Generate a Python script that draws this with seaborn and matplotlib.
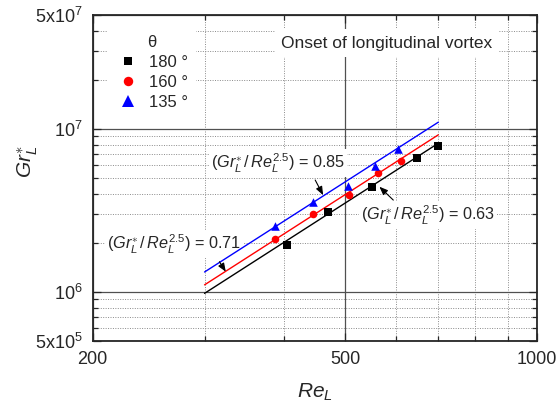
import matplotlib
matplotlib.use("Agg")
import matplotlib.pyplot as plt
import seaborn as sns
from matplotlib.lines import Line2D
from matplotlib.ticker import FixedLocator, NullFormatter

# ---- data ----
theta_labels = ["180 °", "160 °", "135 °"]
re_180 = [404, 470, 550, 649, 700]
gr_180 = [1.94e6, 3.10e6, 4.38e6, 6.60e6, 7.90e6]
re_160 = [387, 445, 507, 562, 611]
gr_160 = [2.10e6, 3.00e6, 3.93e6, 5.35e6, 6.40e6]
re_135 = [387, 444, 505, 557, 604]
gr_135 = [2.55e6, 3.54e6, 4.49e6, 5.95e6, 7.56e6]

# correlation lines (Gr*/Re^2.5 = const), endpoints
re_fit = [300, 700]
gr_fit_063 = [9.8e5, 8.17e6]
gr_fit_071 = [1.105e6, 9.2e6]
gr_fit_085 = [1.325e6, 1.10e7]

x_major = [200, 500, 1000]
x_major_labels = ["200", "500", "1000"]
x_minor = [300, 400, 600, 700, 800, 900]
y_major = [5e5, 1e6, 1e7, 5e7]
y_major_labels = [r"5x10$^{5}$", r"10$^{6}$", r"10$^{7}$", r"5x10$^{7}$"]
y_minor = [6e5, 7e5, 8e5, 9e5, 2e6, 3e6, 4e6, 5e6, 6e6, 7e6, 8e6, 9e6, 2e7, 3e7, 4e7]

sns.set_style("ticks")
plt.rcParams["font.family"] = ["Liberation Sans", "DejaVu Sans"]
plt.rcParams["mathtext.fontset"] = "custom"
plt.rcParams["mathtext.rm"] = "Liberation Sans"
plt.rcParams["mathtext.it"] = "Liberation Sans:italic"
plt.rcParams["mathtext.bf"] = "Liberation Sans:bold"

fig = plt.figure(figsize=(5.57, 4.07), dpi=100)
ax = fig.add_axes([0.1664, 0.1622, 0.7972, 0.8009])

ax.set_xscale("log")
ax.set_yscale("log")
ax.set_xlim(200, 1000)
ax.set_ylim(5e5, 5e7)

# fit lines
sns.lineplot(x=re_fit, y=gr_fit_063, color="black", lw=1.0, ax=ax, zorder=3)
sns.lineplot(x=re_fit, y=gr_fit_071, color="red", lw=1.0, ax=ax, zorder=3)
sns.lineplot(x=re_fit, y=gr_fit_085, color="blue", lw=1.0, ax=ax, zorder=3)

sns.scatterplot(x=re_180, y=gr_180, marker="s", s=27, color="black", linewidth=0, ax=ax, zorder=4)
sns.scatterplot(x=re_160, y=gr_160, marker="o", s=30, color="red", linewidth=0, ax=ax, zorder=4)
sns.scatterplot(x=re_135, y=gr_135, marker="^", s=38, color="blue", linewidth=0, ax=ax, zorder=4)

# ticks
ax.xaxis.set_major_locator(FixedLocator(x_major))
ax.set_xticklabels(x_major_labels)
ax.xaxis.set_minor_locator(FixedLocator(x_minor))
ax.xaxis.set_minor_formatter(NullFormatter())
ax.yaxis.set_major_locator(FixedLocator(y_major))
ax.set_yticklabels(y_major_labels)
ax.yaxis.set_minor_locator(FixedLocator(y_minor))
ax.yaxis.set_minor_formatter(NullFormatter())
ax.tick_params(which="both", direction="in", top=True, right=True, labelsize=13, width=0.9)
ax.tick_params(which="major", length=6, pad=7)
ax.tick_params(which="minor", length=3.5)
for s in ax.spines.values():
    s.set_linewidth(1.3)

ax.grid(which="minor", ls=(0, (1, 1.5)), color="#8a8a8a", lw=0.7)
ax.grid(which="major", ls="-", color="#505050", lw=0.9)
ax.set_axisbelow(True)

ax.set_xlabel(r"$Re_L$", fontsize=15, labelpad=10)
ax.set_ylabel(r"$Gr_L^{\ast}$", fontsize=15)
ax.yaxis.set_label_coords(-0.118, 0.55)

# legend
handles = [
    Line2D([], [], ls="none", marker="s", ms=6.0, color="black", mew=0),
    Line2D([], [], ls="none", marker="o", ms=6.8, color="red", mew=0),
    Line2D([], [], ls="none", marker="^", ms=8.0, color="blue", mew=0),
]
ax.legend(handles, theta_labels, title="θ", loc="upper left", bbox_to_anchor=(0.015, 0.985),
          frameon=True, facecolor="white", edgecolor="white", framealpha=1,
          fontsize=12, title_fontsize=12, handlelength=1.6,
          handletextpad=0.5, labelspacing=0.3, borderpad=0.4, fancybox=False)

box = dict(boxstyle="square,pad=0.12", fc="white", ec="none")
ax.text(0.663, 0.914, "Onset of longitudinal vortex", transform=ax.transAxes,
        ha="center", va="center", fontsize=12.5,
        bbox=dict(boxstyle="square,pad=0.35", fc="white", ec="none"), zorder=2.5)

arrow = dict(arrowstyle="-|>,head_length=0.5,head_width=0.2", color="black", lw=0.8, shrinkA=0, shrinkB=0)
ax.annotate("", xy=(461, 3.93e6), xytext=(448, 4.86e6), arrowprops=arrow, zorder=5)
ax.annotate("", xy=(324, 1.331e6), xytext=(316.6, 1.533e6), arrowprops=arrow, zorder=5)
ax.annotate("", xy=(565.4, 4.42e6), xytext=(594.6, 3.66e6), arrowprops=arrow, zorder=5)

ax.text(0.418, 0.546, r"$(Gr_L^{\ast}\,/\,Re_L^{2.5})$ = 0.85", transform=ax.transAxes,
        ha="center", va="center", fontsize=11.7, bbox=box, zorder=2.5)
ax.text(0.183, 0.2975, r"$(Gr_L^{\ast}\,/\,Re_L^{2.5})$ = 0.71", transform=ax.transAxes,
        ha="center", va="center", fontsize=11.7, bbox=box, zorder=2.5)
ax.text(0.755, 0.3865, r"$(Gr_L^{\ast}\,/\,Re_L^{2.5})$ = 0.63", transform=ax.transAxes,
        ha="center", va="center", fontsize=11.7, bbox=box, zorder=2.5)

fig.savefig("out.png", dpi=100)
